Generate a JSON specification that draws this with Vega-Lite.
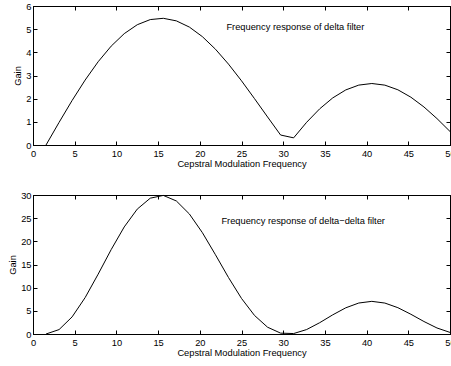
{
  "$schema": "https://vega.github.io/schema/vega-lite/v6.json",
  "padding": {"left": 8, "top": 1, "right": 0, "bottom": 0},
  "background": "white",
  "spacing": 20,
  "config": {
    "view": {"stroke": "black", "strokeWidth": 1},
    "font": "Liberation Sans",
    "axis": {
      "grid": false,
      "domain": true,
      "domainColor": "black",
      "domainWidth": 1,
      "tickColor": "black",
      "tickSize": -4,
      "tickWidth": 1,
      "labelColor": "black",
      "labelFont": "Liberation Sans",
      "labelFontSize": 9.3,
      "titleFont": "Liberation Sans",
      "titleFontSize": 9.3,
      "titleFontWeight": "normal",
      "titleColor": "black"
    }
  },
  "datasets": {
    "delta": [
      {"freq": 1.5625, "gain": 0},
      {"freq": 3.125, "gain": 0.9764},
      {"freq": 4.6875, "gain": 1.9209},
      {"freq": 6.25, "gain": 2.8028},
      {"freq": 7.8125, "gain": 3.5938},
      {"freq": 9.375, "gain": 4.2687},
      {"freq": 10.9375, "gain": 4.8067},
      {"freq": 12.5, "gain": 5.1919},
      {"freq": 14.0625, "gain": 5.4142},
      {"freq": 15.625, "gain": 5.4692},
      {"freq": 17.1875, "gain": 5.3585},
      {"freq": 18.75, "gain": 5.0897},
      {"freq": 20.3125, "gain": 4.6762},
      {"freq": 21.875, "gain": 4.1362},
      {"freq": 23.4375, "gain": 3.4923},
      {"freq": 25, "gain": 2.7707},
      {"freq": 26.5625, "gain": 2.0},
      {"freq": 28.125, "gain": 1.21},
      {"freq": 29.6875, "gain": 0.4308},
      {"freq": 31.25, "gain": 0.3084},
      {"freq": 32.8125, "gain": 0.9807},
      {"freq": 34.375, "gain": 1.562},
      {"freq": 35.9375, "gain": 2.0326},
      {"freq": 37.5, "gain": 2.3771},
      {"freq": 39.0625, "gain": 2.5858},
      {"freq": 40.625, "gain": 2.6544},
      {"freq": 42.1875, "gain": 2.5844},
      {"freq": 43.75, "gain": 2.3831},
      {"freq": 45.3125, "gain": 2.0631},
      {"freq": 46.875, "gain": 1.6417},
      {"freq": 48.4375, "gain": 1.1406},
      {"freq": 50, "gain": 0.5843}
    ],
    "ddelta": [
      {"freq": 1.5625, "gain": 0},
      {"freq": 3.125, "gain": 0.9534},
      {"freq": 4.6875, "gain": 3.6899},
      {"freq": 6.25, "gain": 7.8557},
      {"freq": 7.8125, "gain": 12.915},
      {"freq": 9.375, "gain": 18.222},
      {"freq": 10.9375, "gain": 23.104},
      {"freq": 12.5, "gain": 26.956},
      {"freq": 14.0625, "gain": 29.314},
      {"freq": 15.625, "gain": 29.912},
      {"freq": 17.1875, "gain": 28.713},
      {"freq": 18.75, "gain": 25.905},
      {"freq": 20.3125, "gain": 21.867},
      {"freq": 21.875, "gain": 17.108},
      {"freq": 23.4375, "gain": 12.196},
      {"freq": 25, "gain": 7.677},
      {"freq": 26.5625, "gain": 4.0},
      {"freq": 28.125, "gain": 1.4641},
      {"freq": 29.6875, "gain": 0.1856},
      {"freq": 31.25, "gain": 0.0951},
      {"freq": 32.8125, "gain": 0.9618},
      {"freq": 34.375, "gain": 2.4398},
      {"freq": 35.9375, "gain": 4.1315},
      {"freq": 37.5, "gain": 5.6506},
      {"freq": 39.0625, "gain": 6.6864},
      {"freq": 40.625, "gain": 7.0458},
      {"freq": 42.1875, "gain": 6.6791},
      {"freq": 43.75, "gain": 5.6792},
      {"freq": 45.3125, "gain": 4.2564},
      {"freq": 46.875, "gain": 2.6952},
      {"freq": 48.4375, "gain": 1.301},
      {"freq": 50, "gain": 0.3414}
    ]
  },
  "vconcat": [
    {
      "width": 417,
      "height": 139,
      "layer": [
        {
          "data": {"name": "delta"},
          "mark": {"type": "line", "color": "black", "strokeWidth": 1},
          "encoding": {
            "x": {"field": "freq", "type": "quantitative", "scale": {"domain": [0, 50], "nice": false, "zero": false},
                  "axis": {"orient": "bottom", "values": [0,5,10,15,20,25,30,35,40,45,50], "title": "Cepstral Modulation Frequency", "labelPadding": 8.5, "titlePadding": 1, "labelFlush": false, "labelOverlap": false}},
            "y": {"field": "gain", "type": "quantitative", "scale": {"domain": [0, 6], "nice": false},
                  "axis": {"orient": "left", "values": [0,1,2,3,4,5,6], "title": "Gain", "labelPadding": 6, "titlePadding": 3, "labelFlush": false, "labelOverlap": false}}
          }
        },
        {
          "data": {"values": [{"freq": 23.19, "gain": 5.115, "label": "Frequency response of delta filter"}]},
          "mark": {"type": "text", "align": "left", "baseline": "middle", "font": "Liberation Sans", "fontSize": 9.3, "color": "black"},
          "encoding": {
            "x": {"field": "freq", "type": "quantitative", "scale": {"domain": [0, 50], "nice": false, "zero": false},
                  "axis": {"orient": "top", "values": [0,5,10,15,20,25,30,35,40,45,50], "labels": false, "title": null}},
            "y": {"field": "gain", "type": "quantitative", "scale": {"domain": [0, 6], "nice": false},
                  "axis": {"orient": "right", "values": [0,1,2,3,4,5,6], "labels": false, "title": null}},
            "text": {"field": "label"}
          }
        }
      ],
      "resolve": {"scale": {"x": "independent", "y": "independent"}}
    },
    {
      "width": 417,
      "height": 139,
      "layer": [
        {
          "data": {"name": "ddelta"},
          "mark": {"type": "line", "color": "black", "strokeWidth": 1},
          "encoding": {
            "x": {"field": "freq", "type": "quantitative", "scale": {"domain": [0, 50], "nice": false, "zero": false},
                  "axis": {"orient": "bottom", "values": [0,5,10,15,20,25,30,35,40,45,50], "title": "Cepstral Modulation Frequency", "labelPadding": 8.5, "titlePadding": 1, "labelFlush": false, "labelOverlap": false}},
            "y": {"field": "gain", "type": "quantitative", "scale": {"domain": [0, 30], "nice": false},
                  "axis": {"orient": "left", "values": [0,5,10,15,20,25,30], "title": "Gain", "labelPadding": 6, "titlePadding": 3, "labelFlush": false, "labelOverlap": false}}
          }
        },
        {
          "data": {"values": [{"freq": 22.59, "gain": 24.39, "label": "Frequency response of delta−delta filter"}]},
          "mark": {"type": "text", "align": "left", "baseline": "middle", "font": "Liberation Sans", "fontSize": 9.3, "color": "black"},
          "encoding": {
            "x": {"field": "freq", "type": "quantitative", "scale": {"domain": [0, 50], "nice": false, "zero": false},
                  "axis": {"orient": "top", "values": [0,5,10,15,20,25,30,35,40,45,50], "labels": false, "title": null}},
            "y": {"field": "gain", "type": "quantitative", "scale": {"domain": [0, 30], "nice": false},
                  "axis": {"orient": "right", "values": [0,5,10,15,20,25,30], "labels": false, "title": null}},
            "text": {"field": "label"}
          }
        }
      ],
      "resolve": {"scale": {"x": "independent", "y": "independent"}}
    }
  ]
}
